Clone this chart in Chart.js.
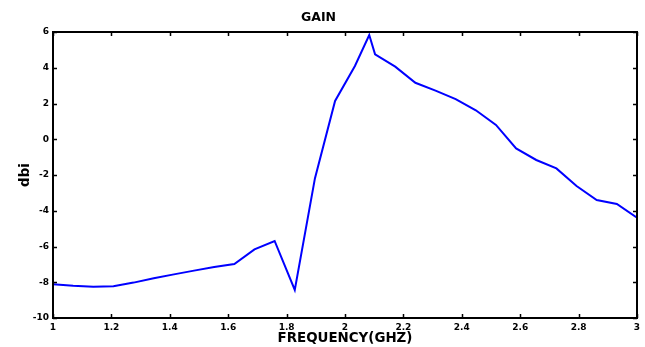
<!DOCTYPE html>
<html>
<head>
<meta charset="utf-8">
<script src="https://cdn.jsdelivr.net/npm/chart.js@4.4.1/dist/chart.umd.min.js"></script>
<style>
  html, body { margin: 0; padding: 0; background: #fff; }
  #grafica { display: block; }
</style>
</head>
<body>
<canvas id="grafica" width="645" height="347"></canvas>
<script>
// frequency points (GHz) and gain (dbi)
const frecuencias = [1, 1.069, 1.138, 1.207, 1.276, 1.345, 1.414, 1.483, 1.552, 1.621,
  1.690, 1.759, 1.828, 1.897, 1.966, 2.034, 2.083, 2.103, 2.172, 2.241,
  2.310, 2.379, 2.448, 2.517, 2.586, 2.655, 2.724, 2.793, 2.862, 2.931, 3.0];
const ganancia = [-8.11, -8.2, -8.25, -8.22, -8.02, -7.78, -7.56, -7.35, -7.15, -6.98,
  -6.16, -5.69, -8.43, -2.19, 2.14, 4.1, 5.83, 4.75, 4.06, 3.16,
  2.72, 2.25, 1.62, 0.8, -0.51, -1.16, -1.63, -2.62, -3.4, -3.62, -4.39];

const xMin = 1, xMax = 3, xStep = 0.2;
const yMin = -10, yMax = 6, yStep = 2;

const puntos = frecuencias.map((f, i) => ({ x: f, y: ganancia[i] }));

// black box and inward ticks on all four sides
const marcoPlugin = {
  id: 'marco',
  afterDraw(chart) {
    const ctx = chart.ctx;
    const a = chart.chartArea;
    const xs = chart.scales.x, ys = chart.scales.y;
    ctx.save();
    ctx.strokeStyle = '#000';
    ctx.lineWidth = 1.5;
    ctx.beginPath();
    xs.ticks.forEach(t => {
      const px = Math.round(xs.getPixelForValue(t.value)) + 0.5;
      ctx.moveTo(px, a.bottom); ctx.lineTo(px, a.bottom - 4);
      ctx.moveTo(px, a.top); ctx.lineTo(px, a.top + 4);
    });
    ys.ticks.forEach(t => {
      const py = Math.round(ys.getPixelForValue(t.value)) + 0.5;
      ctx.moveTo(a.left, py); ctx.lineTo(a.left + 4, py);
      ctx.moveTo(a.right, py); ctx.lineTo(a.right - 4, py);
    });
    ctx.stroke();
    ctx.lineWidth = 2;
    ctx.strokeRect(a.left, a.top, a.right - a.left, a.bottom - a.top);
    ctx.restore();
  }
};

const fuente = 'DejaVu Sans, Liberation Sans, sans-serif';

const config = {
  type: 'line',
  data: {
    datasets: [{
      label: 'GAIN',
      data: puntos,
      borderColor: '#0000ff',
      backgroundColor: '#0000ff',
      borderWidth: 2,
      pointRadius: 0,
      tension: 0
    }]
  },
  options: {
    responsive: false,
    animation: false,
    layout: { padding: { left: 0, right: 8, top: 0, bottom: 0 } },
    plugins: {
      legend: { display: false },
      tooltip: { enabled: false },
      title: {
        display: true,
        text: 'GAIN',
        color: '#000',
        font: { family: fuente, size: 12.5, weight: 'bold', lineHeight: 1.2 },
        padding: { top: 10, bottom: 7 }
      }
    },
    scales: {
      x: {
        type: 'linear',
        min: xMin,
        max: xMax,
        grid: { display: false, drawTicks: false },
        border: { display: false },
        ticks: {
          stepSize: xStep,
          color: '#000',
          padding: 4,
          maxRotation: 0,
          autoSkip: false,
          font: { family: fuente, size: 9, weight: 'bold' },
          callback: v => String(Number(v.toFixed(1)))
        },
        title: {
          display: true,
          text: 'FREQUENCY(GHZ)',
          color: '#000',
          padding: 0,
          font: { family: fuente, size: 13.4, weight: 'bold', lineHeight: 1.2 }
        },
        afterFit: s => { s.height = 29; }
      },
      y: {
        min: yMin,
        max: yMax,
        grid: { display: false, drawTicks: false },
        border: { display: false },
        ticks: {
          stepSize: yStep,
          color: '#000',
          padding: 4,
          font: { family: fuente, size: 9, weight: 'bold' }
        },
        title: {
          display: true,
          text: 'dbi',
          color: '#000',
          padding: { top: 17, bottom: 0 },
          font: { family: fuente, size: 13.4, weight: 'bold', lineHeight: 1.2 }
        },
        afterFit: s => { s.width = 53; }
      }
    }
  },
  plugins: [marcoPlugin]
};

const myChart = new Chart(document.getElementById('grafica'), config);
</script>
</body>
</html>
